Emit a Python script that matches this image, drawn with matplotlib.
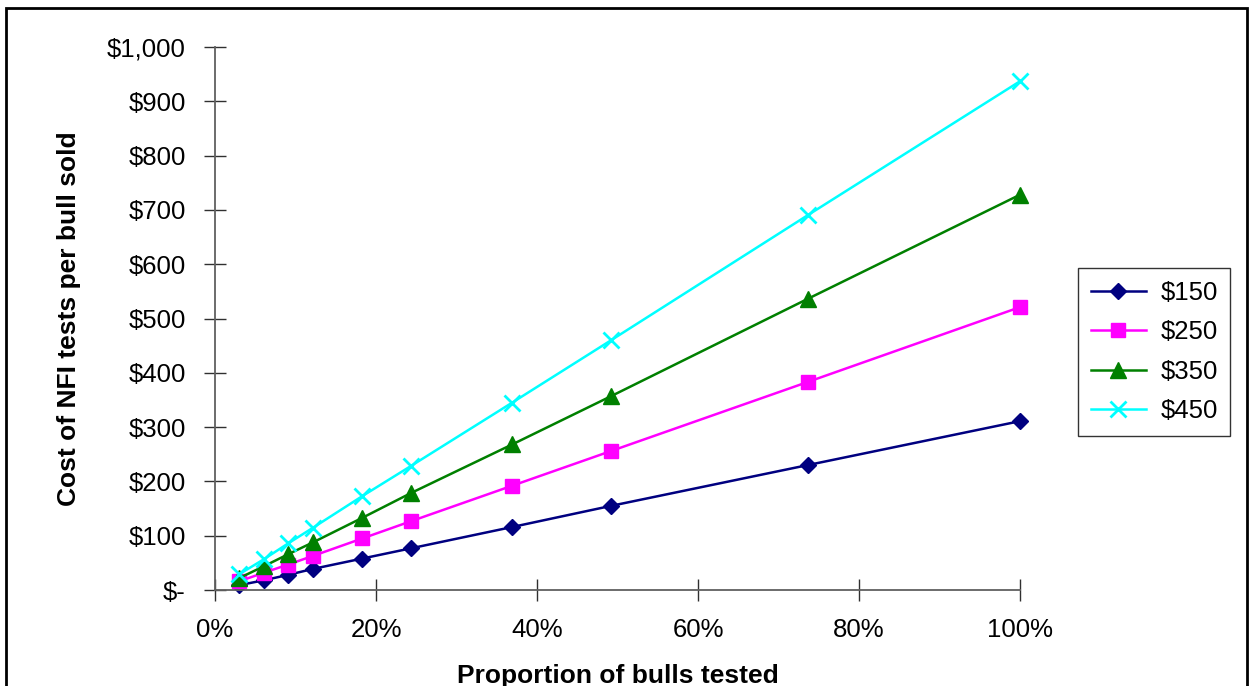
import numpy as np
import matplotlib.pyplot as plt
from matplotlib.patches import Rectangle
from matplotlib.ticker import FuncFormatter

plt.rcParams['font.family'] = ['Liberation Sans', 'DejaVu Sans']

# proportion of bulls tested (fraction)
prop = [0.030, 0.061, 0.091, 0.122, 0.183, 0.244, 0.369, 0.492, 0.736, 1.00]

# cost of NFI tests per bull sold, one series per test price
cost_150 = [9, 18, 28, 39, 58, 77, 116, 155, 230, 311]
cost_250 = [16, 32, 47, 63, 95, 127, 192, 256, 383, 521]
cost_350 = [22, 44, 66, 88, 133, 179, 268, 357, 536, 728]
cost_450 = [29, 57, 86, 115, 173, 229, 345, 460, 690, 937]

labels = ['$150', '$250', '$350', '$450']
series = [cost_150, cost_250, cost_350, cost_450]
colors = ['#000080', '#FF00FF', '#008000', '#00FFFF']
markers = ['D', 's', '^', 'x']
msizes = [8.5, 10.5, 11.5, 12]


def money(v, pos):
    if v == 0:
        return '$-'
    return '${:,.0f}'.format(v)


fig = plt.figure(figsize=(12.53, 6.86), dpi=100)
ax = fig.add_axes([0.1716, 0.1399, 0.6425, 0.7916])

for ys, lab, c, m, ms in zip(series, labels, colors, markers, msizes):
    ax.plot(prop, ys, color=c, marker=m, markersize=ms, linewidth=1.8,
            markeredgewidth=2.0 if m == 'x' else 1.0, label=lab)

ax.set_xlim(0, 1.0)
ax.set_ylim(0, 1000)
ax.set_xticks(np.arange(0, 1.01, 0.2))
ax.set_yticks(np.arange(0, 1001, 100))
ax.xaxis.set_major_formatter(FuncFormatter(lambda v, p: '{:.0f}%'.format(v * 100)))
ax.yaxis.set_major_formatter(FuncFormatter(money))
ax.tick_params(direction='inout', length=16, width=1, color='#303030',
               labelsize=18.5)
ax.tick_params(axis='y', pad=13)
ax.tick_params(axis='x', pad=12)

for s in ['top', 'right']:
    ax.spines[s].set_visible(False)
for s in ['left', 'bottom']:
    ax.spines[s].set_color('#606060')
    ax.spines[s].set_linewidth(1.3)
for ln in ax.lines:
    ln.set_clip_on(False)

ax.set_xlabel('Proportion of bulls tested', fontsize=19, fontweight='bold', labelpad=16)
ax.set_ylabel('Cost of NFI tests per bull sold', fontsize=19, fontweight='bold', labelpad=19)

leg = ax.legend(loc='center left', bbox_to_anchor=(1.072, 0.438), fontsize=18.5,
                frameon=True, fancybox=False, edgecolor='black', handlelength=2.15,
                labelspacing=0.6, borderpad=0.5, handletextpad=0.55,
                borderaxespad=0)
leg.get_frame().set_linewidth(1.0)

fig.patches.append(Rectangle((0.005, -0.05), 0.99, 1.038, transform=fig.transFigure,
                             fill=False, edgecolor='black', linewidth=2))

fig.savefig('out.png', dpi=100)
